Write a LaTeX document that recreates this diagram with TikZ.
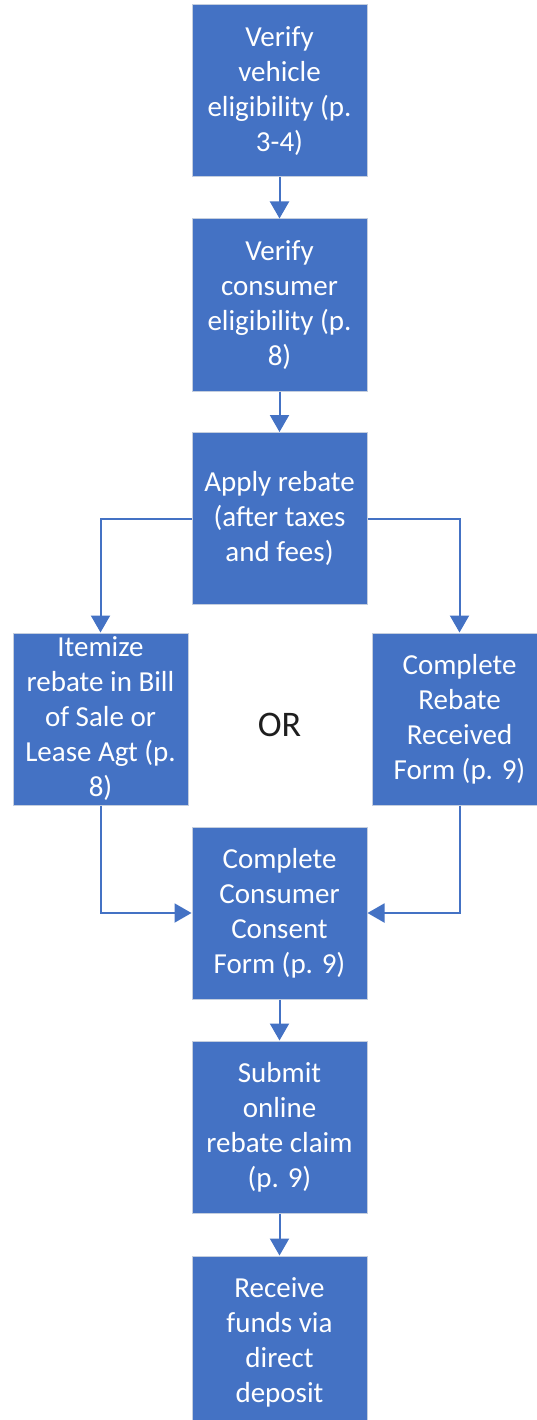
\documentclass[tikz,border=0pt]{standalone}
\usepackage{fontspec}
\setmainfont{Carlito}
\usetikzlibrary{arrows.meta}
\definecolor{boxblue}{RGB}{68,114,196}
\definecolor{boxedge}{RGB}{196,206,222}
\definecolor{ortext}{RGB}{30,30,30}
\tikzset{
  stepbox/.style={rectangle, fill=boxblue, draw=boxedge, line width=1pt,
    minimum width=175pt, minimum height=172pt, inner sep=0pt,
    text=white, align=center, font=\fontsize{29}{35}\selectfont},
  flow/.style={draw=boxblue, line width=2pt,
    -{Triangle[width=19pt,length=17pt]}}
}
\begin{document}
\begin{tikzpicture}[x=1pt,y=-1pt]
\useasboundingbox (0,0) rectangle (536,1420);
\fill[white] (0,0) rectangle (536,1420);
\node[stepbox] (b1) at (279.5,91) {Verify\\vehicle\\eligibility (p.\\3-4)};
\node[stepbox] (b2) at (279.5,305) {Verify\\consumer\\eligibility (p.\\8)};
\node[stepbox] (b3) at (279.5,518.5) {Apply rebate\\(after taxes\\and fees)};
\node[stepbox] (l) at (100.5,719) {Itemize\\rebate in Bill\\of Sale or\\Lease Agt (p.\\8)};
\node[stepbox] (r) at (459.5,719) {Complete\\Rebate\\Received\\Form (p. 9)};
\node[text=ortext, font=\fontsize{36}{40}\selectfont] (or) at (279.5,725) {OR};
\node[stepbox] (c) at (279.5,913) {Complete\\Consumer\\Consent\\Form (p. 9)};
\node[stepbox] (s) at (279.5,1127) {Submit\\online\\rebate claim\\(p. 9)};
\node[stepbox] (f) at (279.5,1342) {Receive\\funds via\\direct\\deposit};
\draw[flow] (b1.south) -- (b2.north);
\draw[flow] (b2.south) -- (b3.north);
\draw[flow] (b3.west) -| (l.north);
\draw[flow] (b3.east) -| (r.north);
\draw[flow] (l.south) |- (c.west);
\draw[flow] (r.south) |- (c.east);
\draw[flow] (c.south) -- (s.north);
\draw[flow] (s.south) -- (f.north);
\end{tikzpicture}
\end{document}
